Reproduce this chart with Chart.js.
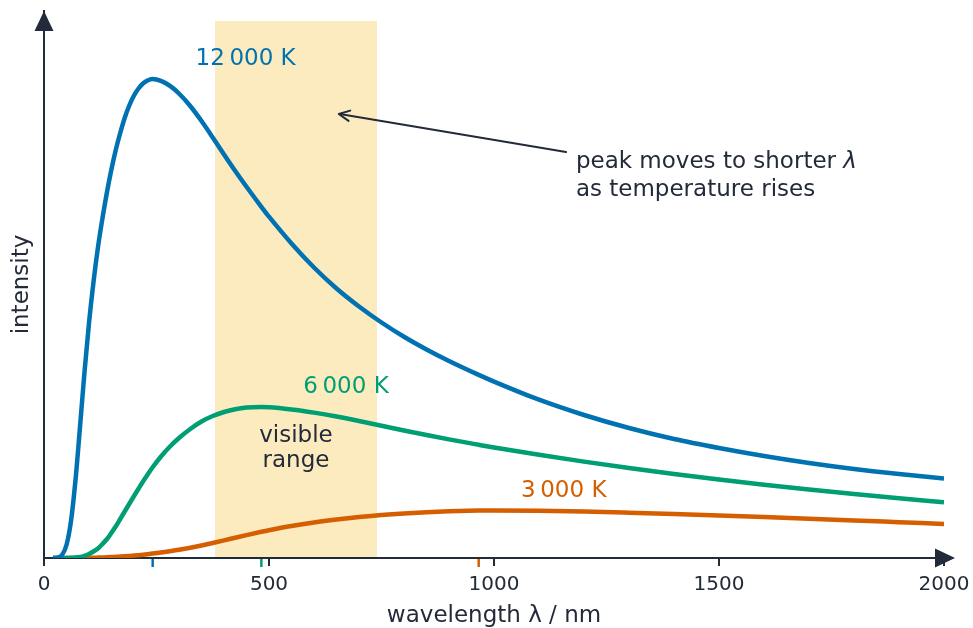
<!DOCTYPE html>
<html><head><meta charset="utf-8">
<script src="https://cdn.jsdelivr.net/npm/chart.js@4"></script>
<style>html,body{margin:0;padding:0;background:#fff}canvas{display:block}</style>
</head><body>
<canvas id="c" width="973" height="628"></canvas>
<script>
// ---- data ----
const wavelengths = [20,30,40,50,60,70,80,90,100,110,120,130,140,150,160,170,180,190,200,210,220,230,241,260,280,300,325,350,375,400,425,450,483,500,550,600,650,700,750,800,850,900,966,1000,1100,1200,1300,1400,1500,1600,1700,1800,1900,2000];
const intensity12000 = [0,0.4,3,13,37,78,131,186,235,276,311,340,366,389,409,426,441,453,462.5,469.5,474.5,477.5,479,477.1,472.1,464.5,452,437,420.5,403.5,387,371.2,351.2,341.3,314.5,290.5,269.5,251.5,235.5,221.2,208.5,197,183.1,176.4,158.3,143,130,119,110,102,95,89,84,79.5];
const intensity6000 = [0,0,0,0.1,0.3,0.6,1,2.2,4,6.5,9.5,14,19,25.3,32,39.5,47,54.5,62,69.3,76.5,83.3,90.5,101.5,111.5,120,129,136.5,142,146,148.8,150.4,151,150.8,148.6,145.4,141.5,137,132.2,127.5,123,118.6,113.2,110.5,103.2,96.4,90.1,84.1,78.5,73.3,68.4,63.9,59.7,55.8];
const intensity3000 = [0,0,0,0,0,0,0.05,0.1,0.15,0.25,0.4,0.55,0.7,0.9,1.15,1.4,1.7,2.05,2.45,2.85,3.3,3.8,4.4,5.5,6.8,8.2,10.2,12.5,15,17.6,20.3,22.9,26.2,27.8,32,35.5,38.4,40.9,43,44.6,45.8,46.7,47.4,47.5,47.2,46.5,45.3,43.9,42.4,40.9,39.3,37.6,35.8,34];
const seriesLabels = ['12\u2009000 K','6\u2009000 K','3\u2009000 K'];
const peakWavelengths = [241.5, 483, 966];
const visibleRange = [380, 740];
const xTickStep = 500;
const xMin = 0, xMax = 2000;

// ---- styling / layout ----
const colors = ['#0072B2','#009E73','#D55E00'];
const axisColor = '#232a3a';
const bandColor = '#fdebc0';
const FONT = "'DejaVu Sans', sans-serif";
const yMax = 547;
const bandTop = 537;
// label anchor positions (data coordinates), baseline-aligned
const seriesLabelPos = [[448,493],[671,165],[1155,61.5]];
const visibleTextPos = [[560,116.5,'visible'],[560,91,'range']];
const noteLines = [['peak moves to shorter ', '\u03BB'], ['as temperature rises', '']];
const noteTextPos = [[1182,390],[1182,362]];
const noteArrow = {from:[1160,406], to:[655,444]};

Chart.defaults.font.family = FONT;

const series = [intensity12000, intensity6000, intensity3000];
const datasets = series.map((vals, k) => ({
  label: seriesLabels[k],
  data: wavelengths.map((w, i) => ({x: w, y: vals[i]})),
  borderColor: colors[k],
  borderWidth: 4.5,
  pointRadius: 0,
  fill: false,
  cubicInterpolationMode: 'monotone',
  borderCapStyle: 'butt',
  borderJoinStyle: 'round'
}));

const deco = {
  id: 'deco',
  beforeDraw(chart) {
    const {ctx, scales: {x, y}} = chart;
    ctx.save();
    ctx.fillStyle = '#fff';
    ctx.fillRect(0, 0, chart.width, chart.height);
    const x0 = x.getPixelForValue(visibleRange[0]), x1 = x.getPixelForValue(visibleRange[1]);
    const yt = y.getPixelForValue(bandTop), yb = y.getPixelForValue(0) - 1;
    ctx.fillStyle = bandColor;
    ctx.fillRect(x0, yt, x1 - x0, yb - yt);
    ctx.restore();
  },
  afterDatasetsDraw(chart) {
    const {ctx, chartArea: a, scales: {x, y}} = chart;
    ctx.save();
    // axis arrowheads
    ctx.fillStyle = axisColor;
    const y0 = y.getPixelForValue(0);
    const xl = x.getPixelForValue(xMin);
    ctx.beginPath();
    ctx.moveTo(a.right + 11, y0);
    ctx.lineTo(a.right - 9, y0 - 9.5);
    ctx.lineTo(a.right - 9, y0 + 9.5);
    ctx.closePath(); ctx.fill();
    ctx.beginPath();
    ctx.moveTo(xl, a.top);
    ctx.lineTo(xl - 9.5, a.top + 20);
    ctx.lineTo(xl + 9.5, a.top + 20);
    ctx.closePath(); ctx.fill();
    // peak ticks
    ctx.lineWidth = 2.5;
    peakWavelengths.forEach((w, k) => {
      const px = x.getPixelForValue(w);
      ctx.strokeStyle = colors[k];
      ctx.beginPath(); ctx.moveTo(px, y0 + 1); ctx.lineTo(px, y0 + 9); ctx.stroke();
    });
    // series labels
    ctx.font = '23px ' + FONT;
    ctx.textAlign = 'center';
    ctx.textBaseline = 'alphabetic';
    seriesLabelPos.forEach((p, k) => {
      ctx.fillStyle = colors[k];
      ctx.fillText(seriesLabels[k], x.getPixelForValue(p[0]), y.getPixelForValue(p[1]));
    });
    ctx.fillStyle = axisColor;
    visibleTextPos.forEach(p => ctx.fillText(p[2], x.getPixelForValue(p[0]), y.getPixelForValue(p[1])));
    ctx.textAlign = 'left';
    noteLines.forEach((parts, i) => {
      const px = x.getPixelForValue(noteTextPos[i][0]), py = y.getPixelForValue(noteTextPos[i][1]);
      ctx.font = '23px ' + FONT;
      ctx.fillText(parts[0], px, py);
      if (parts[1]) {
        const w = ctx.measureText(parts[0]).width;
        ctx.font = 'italic 23px ' + FONT;
        ctx.fillText(parts[1], px + w, py);
      }
    });
    // note arrow
    const fx = x.getPixelForValue(noteArrow.from[0]), fy = y.getPixelForValue(noteArrow.from[1]);
    const tx = x.getPixelForValue(noteArrow.to[0]), ty = y.getPixelForValue(noteArrow.to[1]);
    ctx.strokeStyle = axisColor;
    ctx.lineWidth = 2;
    ctx.lineCap = 'round';
    ctx.lineJoin = 'round';
    ctx.beginPath(); ctx.moveTo(fx, fy); ctx.lineTo(tx + 1, ty); ctx.stroke();
    const ang = Math.atan2(fy - ty, fx - tx);
    const L = 12, sp = 0.45;
    ctx.beginPath();
    ctx.moveTo(tx + L * Math.cos(ang + sp), ty + L * Math.sin(ang + sp));
    ctx.lineTo(tx, ty);
    ctx.lineTo(tx + L * Math.cos(ang - sp), ty + L * Math.sin(ang - sp));
    ctx.stroke();
    ctx.restore();
  }
};

new Chart(document.getElementById('c'), {
  type: 'line',
  data: {datasets},
  options: {
    responsive: false,
    animation: false,
    events: [],
    layout: {padding: {top: 11, right: 29, bottom: 0, left: 0}},
    plugins: {legend: {display: false}, tooltip: {enabled: false}},
    scales: {
      x: {
        type: 'linear', min: xMin, max: xMax,
        ticks: {stepSize: xTickStep, color: axisColor, font: {size: 20}, padding: 7, maxRotation: 0,
                callback: v => String(v)},
        grid: {display: true, drawOnChartArea: false, drawTicks: true, tickLength: 8, color: axisColor, lineWidth: 2},
        border: {display: true, color: axisColor, width: 2},
        title: {display: true, text: 'wavelength \u03BB / nm', color: axisColor, font: {size: 23}, padding: {top: 0, bottom: -2}},
        afterFit(s) { s.height = 70; s.paddingLeft = 0; s.paddingRight = 0; }
      },
      y: {
        min: 0, max: yMax,
        ticks: {display: false},
        grid: {display: false},
        border: {display: true, color: axisColor, width: 2},
        title: {display: true, text: 'intensity', color: axisColor, font: {size: 23}, padding: {top: 8, bottom: 0}},
        afterFit(s) { s.width = 44; }
      }
    }
  },
  plugins: [deco]
});
</script>
</body></html>
